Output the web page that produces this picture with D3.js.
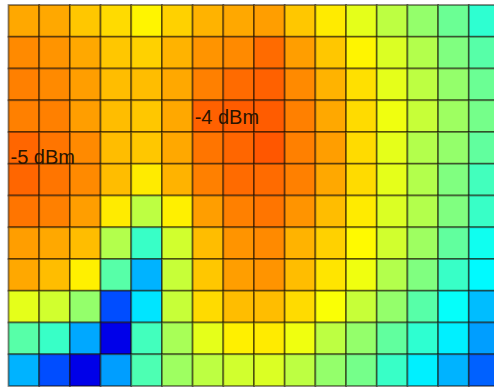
<!DOCTYPE html>
<html>
<head>
<meta charset="utf-8">
<script src="https://cdn.jsdelivr.net/npm/d3@7"></script>
<style>
  html, body { margin: 0; padding: 0; background: #fff; }
  svg { display: block; }
</style>
</head>
<body>
<svg id="chart" width="494" height="388"></svg>
<script>
// Measurement grid: 16 columns x 12 rows of relative signal level (0 = weakest, 1 = strongest)
const columns = d3.range(16);
const rows = d3.range(12);

const level = [
  [0.71, 0.71, 0.68, 0.66, 0.635, 0.67, 0.70, 0.71, 0.72, 0.68, 0.645, 0.60, 0.56, 0.52, 0.48, 0.42],
  [0.74, 0.73, 0.71, 0.68, 0.67, 0.70, 0.73, 0.74, 0.77, 0.72, 0.68, 0.635, 0.59, 0.55, 0.50, 0.46],
  [0.75, 0.74, 0.72, 0.69, 0.69, 0.71, 0.75, 0.77, 0.78, 0.74, 0.70, 0.655, 0.60, 0.56, 0.52, 0.48],
  [0.75, 0.75, 0.72, 0.69, 0.68, 0.71, 0.78, 0.785, 0.785, 0.75, 0.71, 0.66, 0.61, 0.57, 0.53, 0.49],
  [0.775, 0.76, 0.74, 0.69, 0.68, 0.71, 0.76, 0.775, 0.79, 0.75, 0.72, 0.66, 0.60, 0.55, 0.52, 0.47],
  [0.775, 0.76, 0.74, 0.69, 0.645, 0.70, 0.75, 0.77, 0.77, 0.75, 0.71, 0.66, 0.60, 0.55, 0.50, 0.44],
  [0.76, 0.75, 0.72, 0.645, 0.56, 0.64, 0.72, 0.75, 0.76, 0.73, 0.69, 0.645, 0.59, 0.55, 0.50, 0.43],
  [0.72, 0.71, 0.69, 0.55, 0.43, 0.58, 0.69, 0.73, 0.74, 0.70, 0.67, 0.63, 0.58, 0.53, 0.47, 0.39],
  [0.71, 0.69, 0.64, 0.46, 0.30, 0.57, 0.68, 0.72, 0.73, 0.69, 0.65, 0.61, 0.55, 0.50, 0.43, 0.37],
  [0.60, 0.58, 0.52, 0.20, 0.35, 0.57, 0.66, 0.69, 0.69, 0.66, 0.62, 0.57, 0.52, 0.46, 0.38, 0.31],
  [0.46, 0.43, 0.29, 0.10, 0.44, 0.54, 0.60, 0.64, 0.645, 0.61, 0.56, 0.52, 0.47, 0.42, 0.36, 0.28],
  [0.30, 0.20, 0.10, 0.28, 0.45, 0.53, 0.56, 0.58, 0.59, 0.56, 0.52, 0.49, 0.43, 0.36, 0.30, 0.22]
];

// Power annotations: text, the column it starts in, and the grid line its baseline sits near
const annotationText = ["-4 dBm", "-5 dBm"];
const annotationCol = [6, 0];
const annotationLine = [4, 5];
const annotationLift = [8, 0];

const svg = d3.select("#chart");

const x = d3.scaleBand().domain(columns).range([8.5, 499.5]).padding(0);
const y = d3.scaleBand().domain(rows).range([5, 386]).padding(0);

// Jet-style colour ramp
const jet = d3.scaleLinear()
  .domain([0, 0.125, 0.375, 0.625, 0.875, 1])
  .range(["#00008f", "#0000ff", "#00ffff", "#ffff00", "#ff0000", "#800000"])
  .interpolate(d3.interpolateRgb)
  .clamp(true);

const cells = [];
rows.forEach(r => columns.forEach(c => cells.push({ r, c, v: level[r][c] })));

const g = svg.append("g");

g.selectAll("rect.cell")
  .data(cells)
  .join("rect")
  .attr("class", "cell")
  .attr("x", d => x(d.c))
  .attr("y", d => y(d.r))
  .attr("width", x.bandwidth())
  .attr("height", y.bandwidth())
  .attr("fill", d => jet(d.v))
  .attr("stroke", "rgba(20,10,0,0.5)")
  .attr("stroke-width", 1.8);

// Labels
g.selectAll("text.note")
  .data(annotationText)
  .join("text")
  .attr("class", "note")
  .attr("x", (d, i) => x(annotationCol[i]) + 2)
  .attr("y", (d, i) => y(annotationLine[i]) - annotationLift[i])
  .attr("font-family", "Liberation Sans, Arial, sans-serif")
  .attr("font-size", 20)
  .attr("fill", "#2a1400")
  .text(d => d);
</script>
</body>
</html>
